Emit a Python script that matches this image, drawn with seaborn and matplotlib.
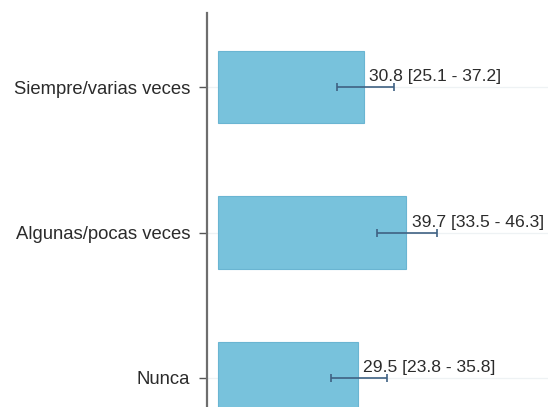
import numpy as np
import pandas as pd
import matplotlib
matplotlib.use("Agg")
import matplotlib.pyplot as plt
import seaborn as sns

# Data
categories = ["Siempre/varias veces", "Algunas/pocas veces", "Nunca"]
values = [30.8, 39.7, 29.5]
ci_low = [25.1, 33.5, 23.8]
ci_high = [37.2, 46.3, 35.8]

df = pd.DataFrame({"cat": categories, "val": values})

sns.set_style("white")
plt.rcParams['font.family'] = ['Liberation Sans', 'DejaVu Sans']

bar_color = "#78c2dc"
err_color = "#3f6183"

fig = plt.figure(figsize=(5.48, 4.07), dpi=100)
ax = fig.add_axes([207 / 548, 0.0, 1 - 207 / 548, 1 - 13 / 407])

# light gridlines at category positions
for i in range(len(categories)):
    ax.axhline(i, color="#eef2f4", lw=0.9, zorder=0)

sns.barplot(data=df, x="val", y="cat", orient="h", color=bar_color,
            width=0.5, errorbar=None, ax=ax, saturation=1,
            edgecolor="#6ab5d2", linewidth=0.8, zorder=2)

ypos = np.arange(len(categories))
vals = np.array(values)
xerr = [vals - np.array(ci_low), np.array(ci_high) - vals]
ax.errorbar(vals, ypos, xerr=xerr, fmt="none", ecolor=err_color,
            elinewidth=1.2, capsize=3, capthick=1.2, zorder=3)

for i, (v, lo, hi) in enumerate(zip(values, ci_low, ci_high)):
    ax.text(v + 1.2, i - 0.07, f"{v} [{lo} - {hi}]", va="center", ha="left",
            fontsize=12.6, color="#2b2b2b", zorder=4)

ax.set_xlim(-2.4, 69.8)
ax.set_ylim(2.2, -0.51)
ax.set_xticks([])
ax.set_xlabel("")
ax.set_ylabel("")
for s in ["top", "right", "bottom"]:
    ax.spines[s].set_visible(False)
ax.spines["left"].set_color("#6e6e6e")
ax.spines["left"].set_linewidth(1.6)
ax.tick_params(axis="y", length=6, width=1, color="#555555",
               labelsize=13.3, labelcolor="#2b2b2b", pad=6, left=True)

fig.savefig("out.png", dpi=100)
